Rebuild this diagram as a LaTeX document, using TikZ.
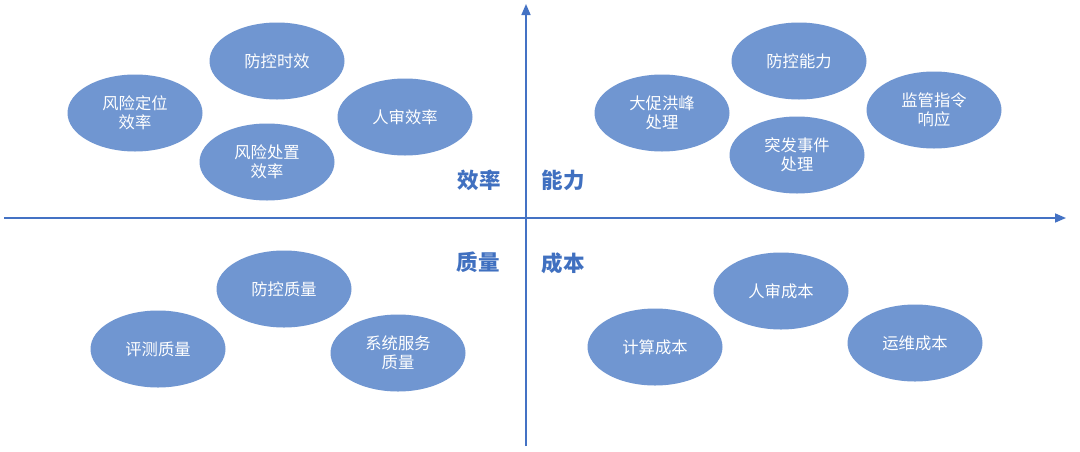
\documentclass[tikz,border=0pt]{standalone}
\usepackage{fontspec}
\newfontfamily\cjk{Noto Sans CJK SC}
\usetikzlibrary{shapes.geometric,arrows.meta}
\definecolor{ellfill}{HTML}{7096D1}
\definecolor{axisblue}{HTML}{4472C4}
\definecolor{lblblue}{HTML}{4070C0}
\begin{document}
\begin{tikzpicture}[x=1pt,y=-1pt,
  bubble/.style={ellipse,fill=ellfill,draw=none,minimum width=135pt,minimum height=77pt,inner sep=0pt,
    text=white,align=center,font=\cjk\fontsize{16.3}{19.5}\selectfont},
  quadlbl/.style={text=lblblue,font=\cjk\bfseries\fontsize{21.5}{24}\selectfont,inner sep=0pt},
  axisline/.style={draw=axisblue,line width=1.6pt,-{Triangle[length=11pt,width=9pt]}}]
\useasboundingbox (0,0) rectangle (1080,451);
\fill[white] (0,0) rectangle (1080,451);
% axes
\coordinate (xs) at (4,218);
\coordinate (xe) at (1066,218);
\coordinate (ys) at (526,446);
\coordinate (ye) at (526,4);
\draw[axisline] (xs) -- (xe);
\draw[axisline] (ys) -- (ye);
% quadrant labels
\node[quadlbl] (lxl) at (479,180) {效率};
\node[quadlbl] (lnl) at (563,180) {能力};
\node[quadlbl] (lzl) at (478,262) {质量};
\node[quadlbl] (lcb) at (563,263) {成本};
% efficiency
\node[bubble] (e1) at (277,61) {防控时效};
\node[bubble] (e2) at (135,113) {风险定位\\效率};
\node[bubble] (e3) at (405,117) {人审效率};
\node[bubble] (e4) at (267,162) {风险处置\\效率};
% capability
\node[bubble] (c1) at (799,61) {防控能力};
\node[bubble] (c2) at (662,113) {大促洪峰\\处理};
\node[bubble] (c3) at (934,110) {监管指令\\响应};
\node[bubble] (c4) at (797,155) {突发事件\\处理};
% quality
\node[bubble] (q1) at (284,289) {防控质量};
\node[bubble] (q2) at (158,349) {评测质量};
\node[bubble] (q3) at (398,353) {系统服务\\质量};
% cost
\node[bubble] (k1) at (781,291) {人审成本};
\node[bubble] (k2) at (655,347) {计算成本};
\node[bubble] (k3) at (915,343) {运维成本};
\end{tikzpicture}
\end{document}
